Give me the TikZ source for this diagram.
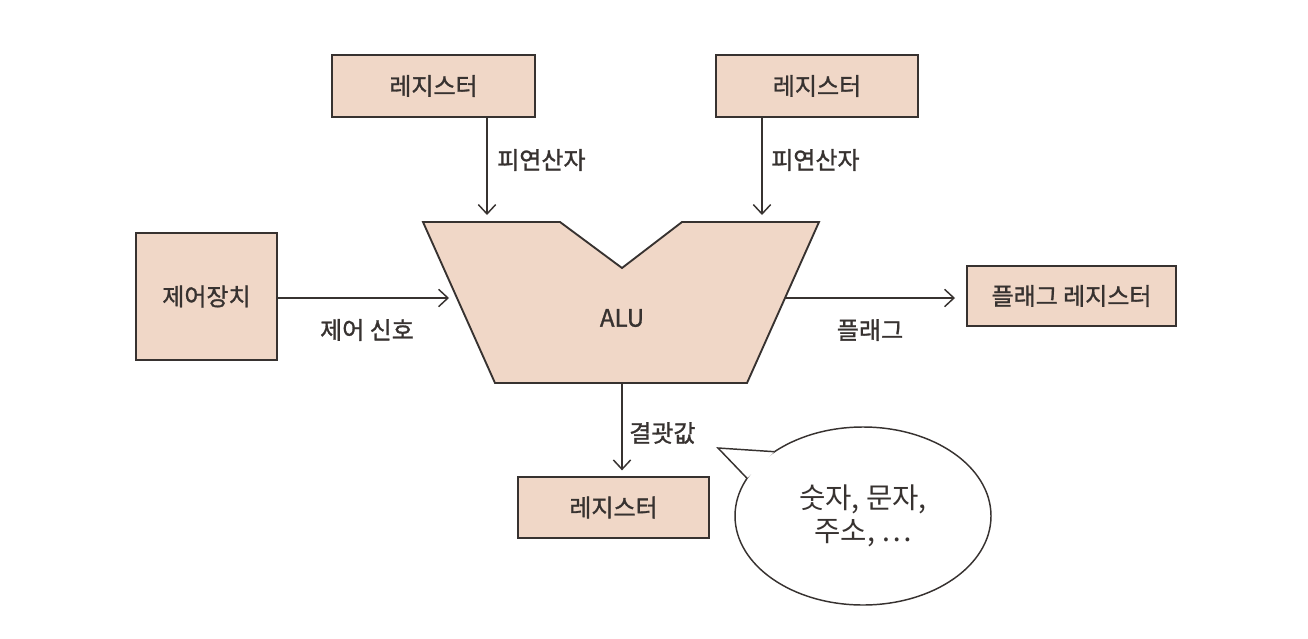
\documentclass[tikz,border=0pt]{standalone}
\usepackage{fontspec}
\newfontfamily\kr[FakeBold=1.2]{Noto Sans CJK KR}
\newfontfamily\krl{Noto Sans CJK KR}
\usetikzlibrary{arrows.meta,shapes.geometric}
\definecolor{boxfill}{RGB}{240,215,199}
\definecolor{ink}{RGB}{55,50,48}
\tikzset{
  regbox/.style={draw=ink,line width=1.4pt,fill=boxfill,text=ink,font=\kr\fontsize{18}{20}\selectfont,inner sep=0pt,outer sep=0pt},
  lbl/.style={text=ink,font=\kr\fontsize{18}{20}\selectfont,inner sep=0pt},
  conn/.style={draw=ink,line width=1.1pt,-{Straight Barb[length=7pt,width=13pt,line width=1.1pt]}}
}
\begin{document}
\begin{tikzpicture}[x=0.75pt,y=-0.75pt]
\useasboundingbox (0,0) rectangle (1308,638);
\fill[white] (0,0) rectangle (1308,638);
% registers
\node[regbox,minimum width=152.25pt,minimum height=46.5pt] (regL) at (433.5,86) {레지스터};
\node[regbox,minimum width=151.5pt,minimum height=46.5pt] (regR) at (817,86) {레지스터};
\node[regbox,minimum width=105.75pt,minimum height=95.25pt] (ctrl) at (206.5,296.5) {제어장치};
\node[regbox,minimum width=156.75pt,minimum height=45pt] (flagreg) at (1071.5,296) {플래그 레지스터};
\node[regbox,minimum width=143.25pt,minimum height=45.75pt] (regB) at (613.5,507.5) {레지스터};
% ALU
\coordinate (aTL) at (423,222);
\coordinate (aN1) at (560,222);
\coordinate (aNB) at (622,268);
\coordinate (aN2) at (682,222);
\coordinate (aTR) at (819,222);
\coordinate (aBR) at (747,383);
\coordinate (aBL) at (495,383);
\draw[ink,line width=1.4pt,fill=boxfill,line join=miter] (aTL) -- (aN1) -- (aNB) -- (aN2) -- (aTR) -- (aBR) -- (aBL) -- cycle;
\node[lbl] (alu) at (622,318) {ALU};
% arrow end points on ALU
\coordinate (inL) at (487,215);
\coordinate (inR) at (762,215);
\coordinate (inC) at (449,298);
\coordinate (outF) at (785,298);
\coordinate (outB) at (622,383);
% connectors
\draw[conn] (regL.south -| inL) -- (inL);
\draw[conn] (regR.south -| inR) -- (inR);
\draw[conn] (ctrl.east |- inC) -- (inC);
\draw[conn] (outF) -- ([xshift=-9pt]flagreg.west |- outF);
\draw[conn] (outB) -- ([yshift=5pt]regB.north -| outB);
% labels
\node[lbl,anchor=west] (opL) at (497,160) {피연산자};
\node[lbl,anchor=west] (opR) at (771,160) {피연산자};
\node[lbl] (sig) at (367,330) {제어 신호};
\node[lbl] (flg) at (870,330) {플래그};
\node[lbl,anchor=west] (res) at (629,433) {결괏값};
% speech bubble
\node[draw=ink,line width=1.1pt,fill=white,ellipse,minimum width=192pt,minimum height=133.5pt,inner sep=0pt,outer sep=0pt,align=center,text=ink,font=\krl\fontsize{21.5}{25}\selectfont] (bubble) at (863,516) {숫자, 문자,\\주소, …};
\coordinate (tail) at (718,448);
\fill[white] (bubble.144.6) -- (tail) -- (bubble.162.8) -- cycle;
\draw[ink,line width=1.1pt,line join=miter] (bubble.144.6) -- (tail) -- (bubble.162.8);
\end{tikzpicture}
\end{document}
